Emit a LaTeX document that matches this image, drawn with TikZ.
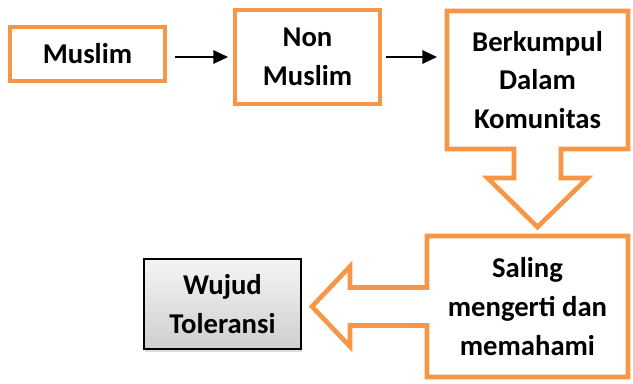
\documentclass[tikz,border=0pt]{standalone}
\usepackage{fontspec}
\setmainfont{Carlito}
\usetikzlibrary{arrows.meta,calc,shadows}
\definecolor{orng}{HTML}{F79646}
\tikzset{box/.style={draw=orng,line width=3.5pt,align=center,inner sep=0pt,outer sep=0pt,
 font=\bfseries\fontsize{21.5}{29}\selectfont},call/.style={box,draw=none},
 outline/.style={draw=orng,line width=3.5pt,line join=miter},
 greybox/.style={draw=black,line width=1.3pt,top color=gray!8,bottom color=gray!38,align=center,
 inner sep=0pt,outer sep=0pt,font=\bfseries\fontsize{21.5}{29}\selectfont,
 drop shadow={shadow xshift=1pt,shadow yshift=-2pt,fill=gray!45,opacity=.6}},
 arr/.style={-{Triangle[length=11pt,width=10pt]},line width=1.6pt,draw=black}}
\begin{document}
\begin{tikzpicture}[x=0.75pt,y=-0.75pt]
\useasboundingbox (0,0) rectangle (633,383);
\node[box,minimum width=116.25pt,minimum height=40.5pt] (muslim) at (87.5,54) {Muslim};
\node[box,minimum width=108.75pt,minimum height=70.5pt] (nonmuslim) at (307.5,57) {Non\\Muslim};
\node[call,minimum width=135.75pt,minimum height=103.5pt] (kumpul) at (537.5,80) {Berkumpul\\Dalam\\Komunitas};
\node[call,minimum width=150.75pt,minimum height=105.75pt] (saling) at (527.5,306.5) {Saling\\mengerti dan\\memahami};
\node[greybox,minimum width=117.75pt,minimum height=67.5pt] (wujud) at (222.5,304) {Wujud\\Toleransi};
% callout outlines
\draw[outline] (kumpul.north west) -- (kumpul.north east) -- (kumpul.south east)
 -- ($(kumpul.south)+(23.5,0)$) -- ($(kumpul.south)+(23.5,29)$) -- ($(kumpul.south)+(50,29)$)
 -- ($(kumpul.south)+(0,78)$) -- ($(kumpul.south)+(-50,29)$) -- ($(kumpul.south)+(-23.5,29)$)
 -- ($(kumpul.south)+(-23.5,0)$) -- (kumpul.south west) -- cycle;
\draw[outline] (saling.south west) -- (saling.south east) -- (saling.north east) -- (saling.north west)
 -- ($(saling.west)+(0,-19)$) -- ($(saling.west)+(-77,-19)$) -- ($(saling.west)+(-77,-40)$)
 -- ($(saling.west)+(-115,0)$) -- ($(saling.west)+(-77,40)$) -- ($(saling.west)+(-77,19)$)
 -- ($(saling.west)+(0,19)$) -- cycle;
\draw[arr,shorten <=7.5pt,shorten >=5.25pt] (muslim.east |- nonmuslim.west) -- (nonmuslim.west);
\draw[arr,shorten <=4.5pt,shorten >=7.5pt] (nonmuslim.east) -- (nonmuslim.east -| kumpul.west);
\end{tikzpicture}
\end{document}
